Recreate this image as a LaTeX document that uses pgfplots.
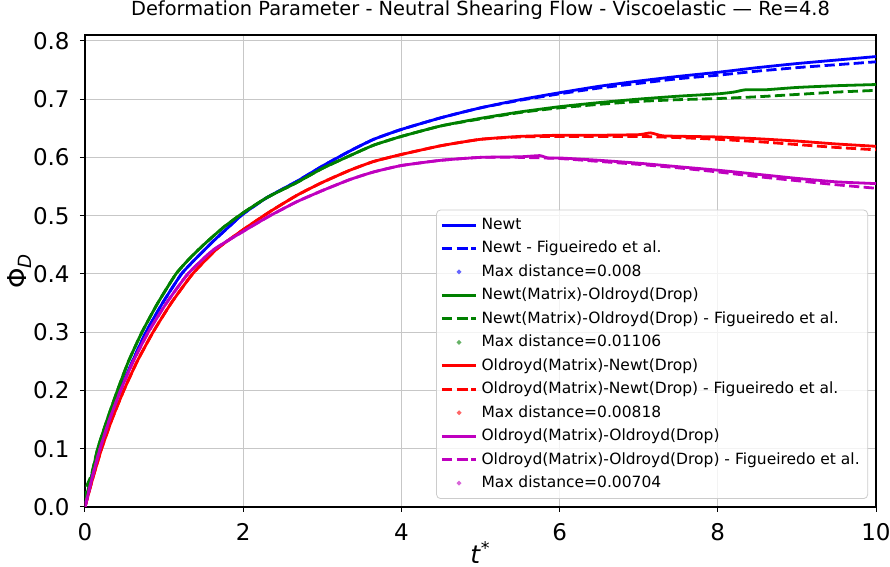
\documentclass[border=0pt]{standalone}
\usepackage{fontspec}
\setmainfont{DejaVu Sans}
\usepackage{pgfplots}
\pgfplotsset{compat=1.18}
\definecolor{mpblue}{rgb}{0,0,1}
\definecolor{mpgreen}{rgb}{0,0.5,0}
\definecolor{mpred}{rgb}{1,0,0}
\definecolor{mpmag}{rgb}{0.75,0,0.75}
\begin{document}
\begin{tikzpicture}
\begin{axis}[
  scale only axis, width=395.5pt, height=236pt,
  xmin=0, xmax=10, ymin=0, ymax=0.81,
  xtick={0,2,4,6,8,10}, ytick={0,0.1,0.2,0.3,0.4,0.5,0.6,0.7,0.8},
  yticklabel style={/pgf/number format/fixed, /pgf/number format/fixed zerofill, /pgf/number format/precision=1, xshift=-5pt},
  /pgf/number format/assume math mode=true,
  tick label style={font=\fontsize{11.5}{13}\selectfont, inner sep=0pt},
  xticklabel style={yshift=-5.5pt},
  tick align=outside, major tick length=2.5pt, xtick pos=bottom, ytick pos=left,
  axis line style={line width=0.55pt},
  every tick/.style={black, line width=0.5pt},
  grid=major, major grid style={black!22, line width=0.5pt},
  title={Deformation Parameter - Neutral Shearing Flow - Viscoelastic — Re=4.8},
  title style={font=\fontsize{9.7}{11}\selectfont, at={(0.5,1)}, anchor=base, inner sep=0pt, yshift=4pt},
  xlabel={\textit{t}\textsuperscript{*}},
  xlabel style={font=\fontsize{12.5}{14}\selectfont, at={(axis description cs:0.5,0)}, anchor=base, yshift=-28.3pt, inner sep=0pt},
  ylabel={Φ\textsubscript{\textit{D}}},
  ylabel style={font=\fontsize{13}{15}\selectfont, at={(axis description cs:-0.0834,0.5)}, anchor=center, inner sep=0pt},
  legend cell align=left,
  legend style={at={(0.99,0.017)}, anchor=south east, font=\fontsize{7.75}{9}\selectfont,
    fill=white, fill opacity=0.8, text opacity=1, draw opacity=1, draw=black!20, rounded corners=2pt,
    row sep=0.35pt, inner sep=2pt},
  every axis plot/.append style={line width=1.4pt, smooth, tension=0.3},
]
% Newt
\addplot[mpblue, solid] coordinates {(0,0)(0.08,0.05)(0.17,0.1)(0.29,0.15)(0.44,0.2)(0.6,0.25)(0.77,0.3)(0.98,0.35)(1.22,0.4)(1.42,0.429)(1.62,0.456)(1.82,0.481)(2.0,0.503)(2.3,0.531)(2.68,0.559)(3.0,0.585)(3.35,0.611)(3.65,0.631)(4.0,0.648)(4.5,0.668)(5.0,0.685)(5.5,0.699)(6.0,0.711)(6.5,0.722)(7.0,0.731)(7.5,0.739)(8.0,0.746)(8.5,0.754)(9.0,0.761)(9.5,0.767)(10,0.773)};
\addlegendentry{Newt}
\addplot[mpblue, dash pattern=on 5.1pt off 2.2pt] coordinates {(0,0)(0.08,0.05)(0.17,0.1)(0.29,0.15)(0.44,0.2)(0.6,0.25)(0.77,0.3)(0.98,0.35)(1.22,0.4)(1.42,0.429)(1.62,0.456)(1.82,0.481)(2.0,0.503)(2.3,0.531)(2.68,0.559)(3.0,0.585)(3.35,0.611)(3.65,0.631)(4.0,0.648)(4.5,0.668)(5.0,0.685)(5.5,0.698)(6.0,0.709)(6.5,0.719)(7.0,0.727)(7.5,0.735)(8.0,0.741)(8.5,0.748)(9.0,0.754)(9.5,0.759)(10,0.764)};
\addlegendentry{Newt - Figueiredo et al.}
\addlegendimage{only marks, mark=*, mark size=0.25pt, mpblue!60}
\addlegendentry{Max distance=0.008}
% Newt(Matrix)-Oldroyd(Drop)
\addplot[mpgreen, solid] coordinates {(0,0)(0.02,0.02)(0.08,0.05)(0.16,0.1)(0.28,0.15)(0.41,0.2)(0.55,0.25)(0.72,0.3)(0.92,0.35)(1.15,0.4)(1.34,0.429)(1.54,0.455)(1.76,0.481)(2.0,0.505)(2.3,0.531)(2.68,0.557)(3.0,0.581)(3.35,0.603)(3.65,0.621)(4.0,0.636)(4.5,0.654)(5.0,0.667)(5.5,0.678)(6.0,0.687)(6.5,0.694)(7.0,0.7)(7.5,0.705)(8.0,0.709)(8.2,0.712)(8.35,0.716)(8.6,0.716)(9.0,0.72)(9.5,0.723)(10,0.725)};
\addlegendentry{Newt(Matrix)-Oldroyd(Drop)}
\addplot[mpgreen, dash pattern=on 5.1pt off 2.2pt] coordinates {(0,0.01)(0.02,0.035)(0.08,0.055)(0.16,0.1)(0.28,0.15)(0.41,0.2)(0.55,0.25)(0.72,0.3)(0.92,0.35)(1.15,0.4)(1.34,0.429)(1.54,0.455)(1.76,0.481)(2.0,0.505)(2.3,0.531)(2.68,0.557)(3.0,0.581)(3.35,0.603)(3.65,0.621)(4.0,0.636)(4.5,0.654)(5.0,0.666)(5.5,0.677)(6.0,0.685)(6.5,0.691)(7.0,0.696)(7.5,0.699)(8.0,0.701)(8.5,0.704)(9.0,0.708)(9.5,0.712)(10,0.715)};
\addlegendentry{Newt(Matrix)-Oldroyd(Drop) - Figueiredo et al.}
\addlegendimage{only marks, mark=*, mark size=0.25pt, mpgreen!60}
\addlegendentry{Max distance=0.01106}
% Oldroyd(Matrix)-Newt(Drop)
\addplot[mpred, solid] coordinates {(0,0)(0.1,0.05)(0.21,0.1)(0.34,0.15)(0.49,0.2)(0.66,0.25)(0.86,0.3)(1.09,0.35)(1.36,0.4)(1.66,0.442)(2.0,0.476)(2.34,0.507)(2.68,0.535)(3.0,0.557)(3.35,0.578)(3.65,0.593)(4.0,0.605)(4.5,0.62)(5.0,0.631)(5.5,0.636)(6.0,0.638)(6.5,0.638)(7.0,0.639)(7.15,0.642)(7.3,0.637)(7.6,0.636)(8.0,0.635)(8.5,0.632)(9.0,0.628)(9.5,0.623)(10,0.619)};
\addlegendentry{Oldroyd(Matrix)-Newt(Drop)}
\addplot[mpred, dash pattern=on 5.1pt off 2.2pt] coordinates {(0,0)(0.1,0.05)(0.21,0.1)(0.34,0.15)(0.49,0.2)(0.66,0.25)(0.86,0.3)(1.09,0.35)(1.36,0.4)(1.66,0.442)(2.0,0.476)(2.34,0.507)(2.68,0.535)(3.0,0.557)(3.35,0.578)(3.65,0.593)(4.0,0.605)(4.5,0.62)(5.0,0.631)(5.5,0.635)(6.0,0.636)(6.5,0.636)(7.0,0.636)(7.5,0.634)(8.0,0.631)(8.5,0.627)(9.0,0.622)(9.5,0.617)(10,0.613)};
\addlegendentry{Oldroyd(Matrix)-Newt(Drop) - Figueiredo et al.}
\addlegendimage{only marks, mark=*, mark size=0.25pt, mpred!60}
\addlegendentry{Max distance=0.00818}
% Oldroyd(Matrix)-Oldroyd(Drop)
\addplot[mpmag, solid] coordinates {(0,0)(0.09,0.05)(0.19,0.1)(0.31,0.15)(0.45,0.2)(0.61,0.25)(0.8,0.3)(1.03,0.35)(1.3,0.4)(1.62,0.441)(2.0,0.473)(2.34,0.5)(2.68,0.524)(3.0,0.543)(3.35,0.562)(3.65,0.575)(4.0,0.586)(4.5,0.595)(5.0,0.6)(5.5,0.601)(5.75,0.603)(5.85,0.599)(6.0,0.599)(6.5,0.595)(7.0,0.59)(7.5,0.584)(8.0,0.578)(8.5,0.571)(9.0,0.564)(9.5,0.558)(10,0.555)};
\addlegendentry{Oldroyd(Matrix)-Oldroyd(Drop)}
\addplot[mpmag, dash pattern=on 5.1pt off 2.2pt] coordinates {(0,0)(0.09,0.05)(0.19,0.1)(0.31,0.15)(0.45,0.2)(0.61,0.25)(0.8,0.3)(1.03,0.35)(1.3,0.4)(1.62,0.441)(2.0,0.473)(2.34,0.5)(2.68,0.524)(3.0,0.543)(3.35,0.562)(3.65,0.575)(4.0,0.586)(4.5,0.595)(5.0,0.6)(5.5,0.6)(6.0,0.598)(6.5,0.593)(7.0,0.588)(7.5,0.582)(8.0,0.575)(8.5,0.567)(9.0,0.56)(9.5,0.553)(10,0.547)};
\addlegendentry{Oldroyd(Matrix)-Oldroyd(Drop) - Figueiredo et al.}
\addlegendimage{only marks, mark=*, mark size=0.25pt, mpmag!60}
\addlegendentry{Max distance=0.00704}
\end{axis}
\pgfresetboundingbox
\useasboundingbox (-42.5pt,-30pt) rectangle (402.5pt,253.5pt);
\end{tikzpicture}
\end{document}
